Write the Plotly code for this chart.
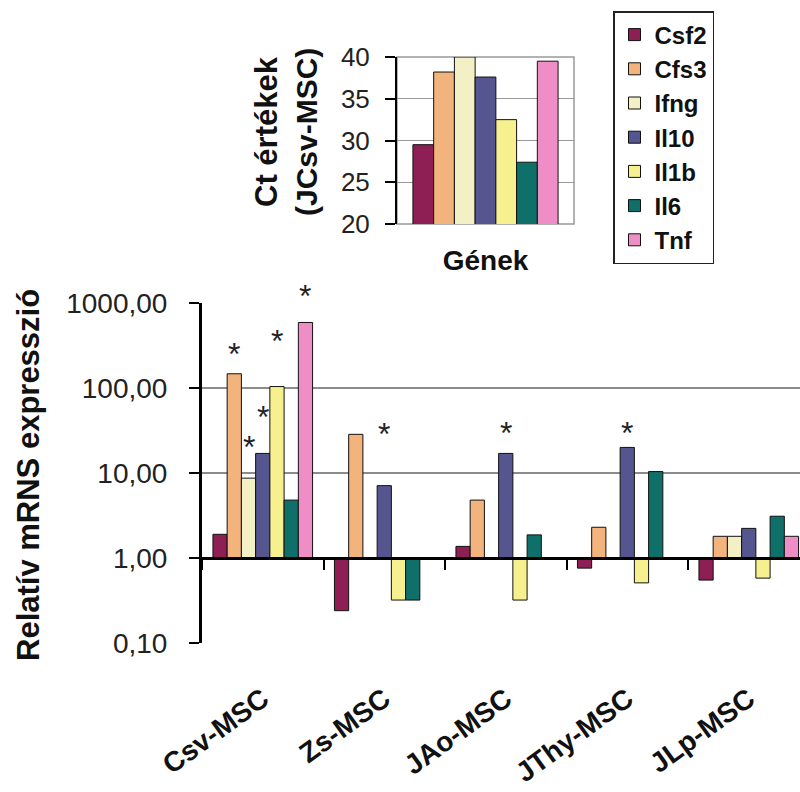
import math
import plotly.graph_objects as go

# ---------------- data ----------------
groups = ["Csv-MSC", "Zs-MSC", "JAo-MSC", "JThy-MSC", "JLp-MSC"]
genes = ["Csf2", "Cfs3", "Ifng", "Il10", "Il1b", "Il6", "Tnf"]

csf2 = [1.9, 0.24, 1.37, 0.76, 0.55]
cfs3 = [147, 28.5, 4.8, 2.3, 1.8]
ifng = [8.7, None, None, None, 1.8]
il10 = [17, 7.1, 17, 20, 2.23]
il1b = [104, 0.32, 0.32, 0.51, 0.58]
il6 = [4.8, 0.32, 1.87, 10.4, 3.1]
tnf = [590, None, None, None, 1.8]
rel_expr = [csf2, cfs3, ifng, il10, il1b, il6, tnf]

ct_category = ["Gének"]
ct_values = [29.5, 38.2, 40.0, 37.6, 32.5, 27.4, 39.5]

star_group = ["Csv-MSC", "Csv-MSC", "Csv-MSC", "Csv-MSC", "Csv-MSC", "Zs-MSC", "JAo-MSC", "JThy-MSC"]
star_gene = ["Cfs3", "Ifng", "Il10", "Il1b", "Tnf", "Il10", "Il10", "Il10"]
star_y = [316, 25, 57, 442, 1500, 36, 37, 37]

y_tickvals = [0.1, 1, 10, 100, 1000]
y_ticktext = ["0,10", "1,00", "10,00", "100,00", "1000,00"]
ct_tickvals = [20, 25, 30, 35, 40]

colors = ["#8E1F55", "#F2B37C", "#F3F0C6", "#55558F", "#F6F18E", "#0F6F69", "#EF8EC6"]

# ---------------- layout constants ----------------
W, H = 800, 792
FONT = "Liberation Sans, Arial, sans-serif"
BARGAP = 0.18
main_x_dom = [202 / W, 1.0]
main_y_dom = [(H - 643) / H, (H - 303) / H]
ins_x_dom = [397 / W, 574 / W]
ins_y_dom = [(H - 224) / H, (H - 57) / H]
log_lo, log_hi = -1, 3
baseline_pos = main_y_dom[0] + (0 - log_lo) / (log_hi - log_lo) * (main_y_dom[1] - main_y_dom[0])
x_hi = -0.5 + (W - 202) / 121.5

fig = go.Figure()

# main chart: bars measured from 1 on a log axis
for gene, vals, col in zip(genes, rel_expr, colors):
    fig.add_trace(go.Bar(
        x=groups,
        y=[None if v is None else v - 1 for v in vals],
        base=1,
        name=gene,
        legendgroup=gene,
        marker=dict(color=col, line=dict(color="#111", width=1)),
        xaxis="x", yaxis="y",
        hovertext=[None if v is None else f"{gene}: {v}" for v in vals],
        hoverinfo="text",
    ))

# inset chart
for gene, val, col in zip(genes, ct_values, colors):
    fig.add_trace(go.Bar(
        x=ct_category, y=[val], name=gene, legendgroup=gene, showlegend=False,
        marker=dict(color=col, line=dict(color="#111", width=1)),
        xaxis="x2", yaxis="y2",
    ))

# asterisks (positioned relative to the log axis domain so they may sit above the range)
bw = (1 - BARGAP) / len(genes)
annotations = []
for g, s, yv in zip(star_group, star_gene, star_y):
    xi = groups.index(g) + (genes.index(s) - (len(genes) - 1) / 2) * bw
    yd = (math.log10(yv) - log_lo) / (log_hi - log_lo)
    annotations.append(dict(
        x=xi, y=yd, xref="x", yref="y domain",
        text="*", showarrow=False, font=dict(family=FONT, size=32, color="#222"),
        yanchor="middle", yshift=-8,
    ))

# y-axis title main
annotations.append(dict(
    x=29 / W, y=(H - 475) / H, xref="paper", yref="paper", text="<b>Relatív mRNS expresszió</b>",
    textangle=-90, showarrow=False, font=dict(family=FONT, size=31, color="#111"),
    xanchor="center", yanchor="middle",
))
# inset y title (two lines)
annotations.append(dict(
    x=267 / W, y=(H - 132) / H, xref="paper", yref="paper", text="<b>Ct értékek</b>",
    textangle=-90, showarrow=False, font=dict(family=FONT, size=31, color="#111"),
    xanchor="center", yanchor="middle",
))
annotations.append(dict(
    x=307 / W, y=(H - 132) / H, xref="paper", yref="paper", text="<b>(JCsv-MSC)</b>",
    textangle=-90, showarrow=False, font=dict(family=FONT, size=30, color="#111"),
    xanchor="center", yanchor="middle",
))

shapes = [
    dict(type="rect", xref="x2 domain", yref="y2 domain", x0=0, x1=1, y0=0, y1=1,
         line=dict(color="#999", width=1.5), layer="below"),
]

fig.update_layout(
    width=W, height=H,
    margin=dict(l=0, r=0, t=0, b=0, autoexpand=False),
    paper_bgcolor="white", plot_bgcolor="white",
    barmode="group", bargap=BARGAP, bargroupgap=0,
    font=dict(family=FONT, color="#111"),
    showlegend=True,
    legend=dict(
        x=613 / W, y=1 - 11 / H, xanchor="left", yanchor="top",
        bordercolor="#222", borderwidth=1.5, bgcolor="white",
        font=dict(family=FONT, size=24, color="#111", weight="bold"),
        traceorder="normal", tracegroupgap=0,
    ),
    xaxis=dict(
        domain=main_x_dom, anchor="free", position=baseline_pos,
        type="category", range=[-0.5, x_hi], automargin=False,
        showline=True, linecolor="#000", linewidth=2.5,
        ticks="outside", tickson="boundaries", ticklen=10, tickwidth=2, tickcolor="#000",
        tickangle=-36, tickfont=dict(family=FONT, size=28, color="#111", weight="bold"),
        ticklabelstandoff=112, showgrid=False, zeroline=False,
    ),
    yaxis=dict(
        domain=main_y_dom, anchor="x", type="log", range=[log_lo, log_hi], automargin=False,
        tickvals=y_tickvals, ticktext=y_ticktext,
        tickfont=dict(family=FONT, size=28, color="#222"),
        showline=True, linecolor="#000", linewidth=3,
        ticks="outside", ticklen=10, tickwidth=2, tickcolor="#000",
        ticklabelstandoff=16,
        showgrid=True, gridcolor="#8c8c8c", gridwidth=1.5, zeroline=False,
    ),
    xaxis2=dict(
        domain=ins_x_dom, anchor="y2", type="category", automargin=False,
        showticklabels=False, ticks="", showline=False, showgrid=False,
        title=dict(text="<b>Gének</b>", font=dict(family=FONT, size=28, color="#111"), standoff=26),
    ),
    yaxis2=dict(
        domain=ins_y_dom, anchor="x2", range=[20, 40], tickvals=ct_tickvals, automargin=False,
        tickfont=dict(family=FONT, size=26, color="#222"),
        showline=True, linecolor="#000", linewidth=2,
        ticks="outside", ticklen=10, tickwidth=2, tickcolor="#000",
        ticklabelstandoff=10,
        showgrid=True, gridcolor="#999", gridwidth=1.2, zeroline=False,
    ),
    annotations=annotations,
    shapes=shapes,
)

fig.write_html("out.html")
